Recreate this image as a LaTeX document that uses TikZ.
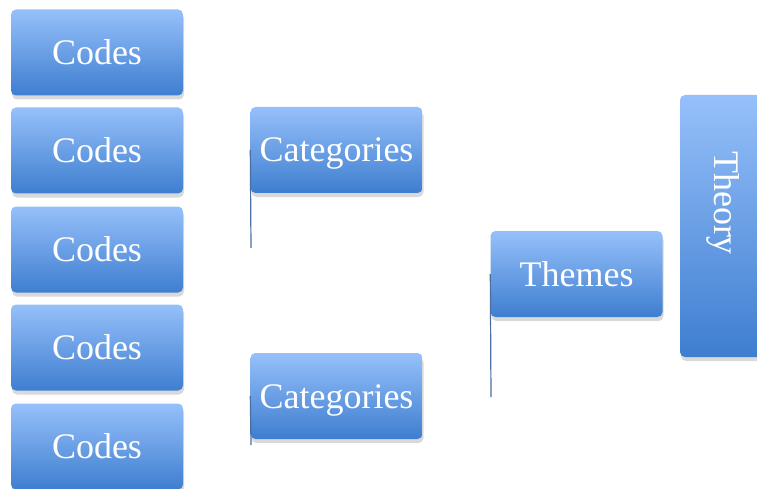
\documentclass[tikz,border=0pt]{standalone}
\usepackage{fontspec}
\setmainfont{Liberation Serif}
\usepackage{tikz}
\usetikzlibrary{shadows,positioning}
\definecolor{boxtop}{RGB}{150,192,250}
\definecolor{boxbot}{RGB}{62,126,208}
\definecolor{stem}{RGB}{74,110,160}
\tikzset{
  blockbox/.style={rectangle, rounded corners=5pt, top color=boxtop, bottom color=boxbot,
    minimum width=172pt, minimum height=86pt, inner sep=0pt, text=white,
    font=\fontsize{36}{40}\selectfont, text height=24pt, text depth=0pt,
    drop shadow={opacity=0.3, shadow xshift=1pt, shadow yshift=-4pt}},
  stemline/.style={line width=1.2pt, stem}
}

\begin{document}
\begin{tikzpicture}[x=1pt,y=-1pt]
        \useasboundingbox (0,0) rectangle (757,489);
        \clip (0,0) rectangle (757,489);
        % left column
        \foreach \i/\y in {1/52.5,2/150.5,3/249.5,4/347.5,5/446.5}
          \node[blockbox] (code\i) at (97,\y) {Codes};
        \node[blockbox] (cat1) at (336.5,150) {Categories};
        \node[blockbox] (cat2) at (336.5,396) {Categories};
        \node[blockbox] (themes) at (576.5,274) {Themes};
        \node[blockbox, minimum width=86pt, minimum height=262pt] (theory) at (723,226) {};
        \node[rotate=-90, text=white, font=\fontsize{36}{40}\selectfont] (theorylbl) at (723,203) {Theory};
        % stems
        \coordinate (s1) at (251,248);
        \coordinate (s2) at (251,445);
        \coordinate (s3) at (491,397);
        \draw[stemline] (cat1.west) -- (s1);
        \draw[stemline] (cat2.west) -- (s2);
        \draw[stemline] (themes.west) -- (s3);
\end{tikzpicture}
\end{document}
